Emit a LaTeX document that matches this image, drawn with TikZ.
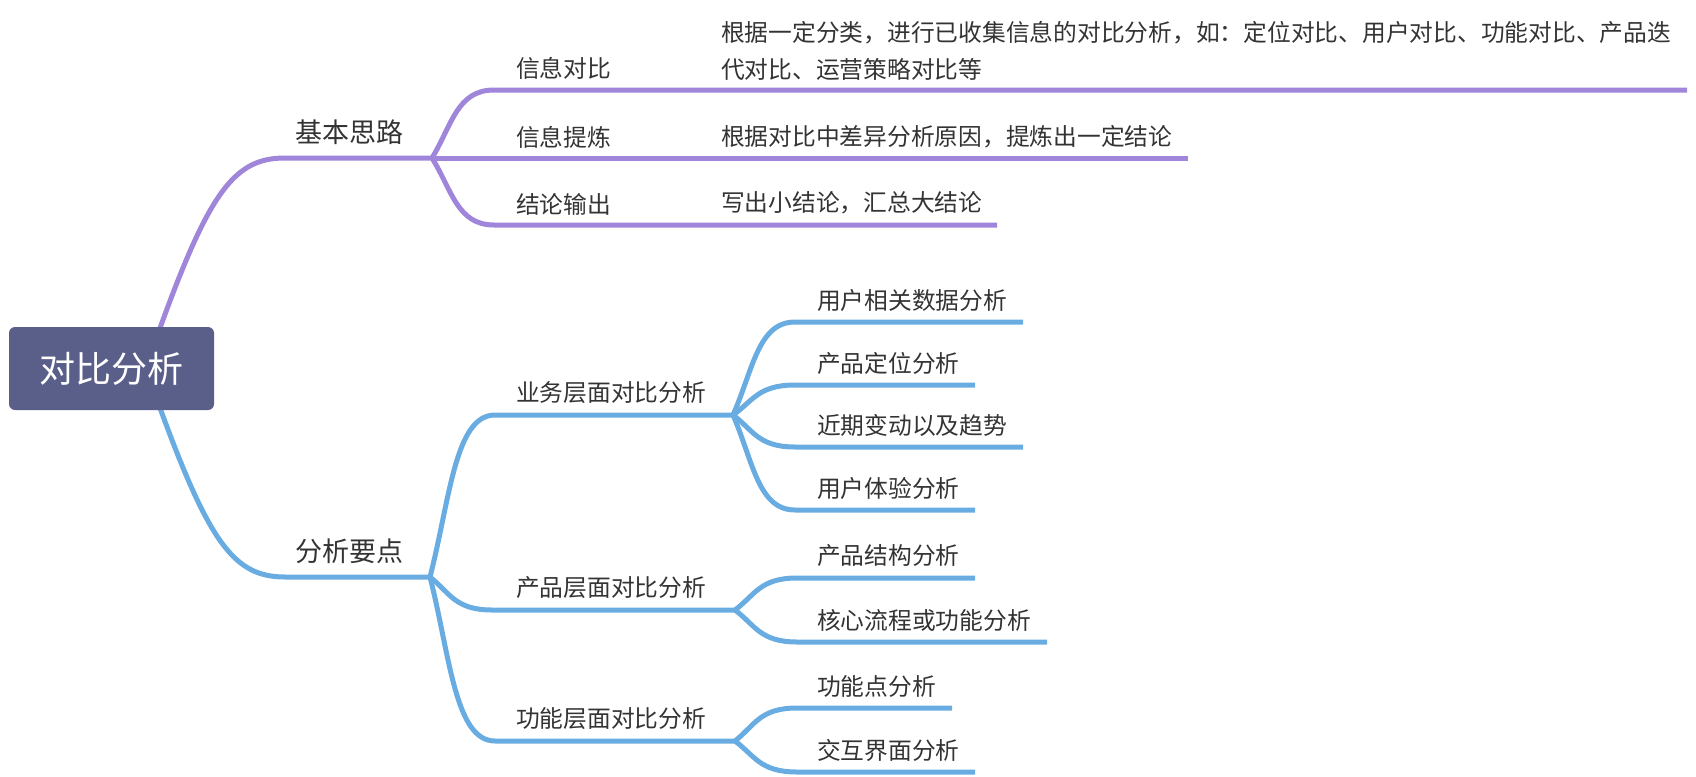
\documentclass[tikz,border=0pt]{standalone}
\usepackage{fontspec}
\newfontfamily\cjk{Noto Sans CJK SC}
\definecolor{purp}{RGB}{160,134,218}
\definecolor{blu}{RGB}{104,172,225}
\definecolor{rootc}{RGB}{89,95,137}
\definecolor{txt}{RGB}{51,51,51}
\begin{document}
\begin{tikzpicture}[x=1pt,y=-1pt,
  lbl/.style={anchor=west,inner sep=0pt,text=txt,font=\cjk\fontsize{23.75}{37}\selectfont},
  lblone/.style={lbl,font=\cjk\fontsize{27}{32}\selectfont},
  pline/.style={draw=purp,line width=5pt},
  bline/.style={draw=blu,line width=5pt},
  rootbox/.style={fill=rootc,rounded corners=6pt,minimum width=205pt,minimum height=83pt,
    inner sep=0pt,text=white,font=\cjk\fontsize{36}{40}\selectfont}]
\useasboundingbox (0,0) rectangle (1696,776);

% junction coordinates
\coordinate (rtop) at (160,328);
\coordinate (rbot) at (160,408);
\coordinate (pB) at (432,158);
\coordinate (bB) at (430,577);
\coordinate (yB) at (733,415);
\coordinate (cB) at (735,610);
\coordinate (gB) at (735,741);
% line ends
\coordinate (p1e) at (1687,90);
\coordinate (p2e) at (1188,158);
\coordinate (p3e) at (997,225);
\coordinate (y1e) at (1023,322);
\coordinate (y2e) at (975,385);
\coordinate (y3e) at (1023,447);
\coordinate (y4e) at (975,510);
\coordinate (c1e) at (975,578);
\coordinate (c2e) at (1047,642);
\coordinate (g1e) at (952,708);
\coordinate (g2e) at (975,772);

% purple branch
\draw[pline] (rtop) .. controls (210,190) and (235,158) .. (285,158) -- (pB);
\draw[pline] (pB) .. controls (452,125) and (457,90) .. (494,90) -- (p1e);
\draw[pline] (pB) -- (p2e);
\draw[pline] (pB) .. controls (452,190) and (457,225) .. (494,225) -- (p3e);

% blue branch
\draw[bline] (rbot) .. controls (210,545) and (235,577) .. (285,577) -- (bB);
\draw[bline] (bB) .. controls (450,499) and (455,415) .. (495,415) -- (yB);
\draw[bline] (bB) .. controls (450,593) and (455,610) .. (492,610) -- (cB);
\draw[bline] (bB) .. controls (450,656) and (455,741) .. (495,741) -- (gB);

\draw[bline] (yB) .. controls (753,370) and (758,322) .. (795,322) -- (y1e);
\draw[bline] (yB) .. controls (753,401) and (758,385) .. (795,385) -- (y2e);
\draw[bline] (yB) .. controls (753,430) and (758,447) .. (795,447) -- (y3e);
\draw[bline] (yB) .. controls (753,461) and (758,510) .. (795,510) -- (y4e);

\draw[bline] (cB) .. controls (755,595) and (760,578) .. (797,578) -- (c1e);
\draw[bline] (cB) .. controls (755,625) and (760,642) .. (797,642) -- (c2e);

\draw[bline] (gB) .. controls (755,725) and (760,708) .. (797,708) -- (g1e);
\draw[bline] (gB) .. controls (755,756) and (760,772) .. (797,772) -- (g2e);

% root
\node[rootbox] (root) at (111.5,368.5) {对比分析};

% level 1
\node[lblone] (n1) at (295,132) {基本思路};
\node[lblone] (n2) at (295,551) {分析要点};

% purple level 2
\node[lbl] (p1) at (516,68) {信息对比};
\node[lbl] (p2) at (516,137) {信息提炼};
\node[lbl] (p3) at (516,204) {结论输出};
\node[lbl,align=left] (p1d) at (721,50.5) {根据一定分类，进行已收集信息的对比分析，如：定位对比、用户对比、功能对比、产品迭\\代对比、运营策略对比等};
\node[lbl] (p2d) at (721,137) {根据对比中差异分析原因，提炼出一定结论};
\node[lbl] (p3d) at (721,203) {写出小结论，汇总大结论};

% blue level 2
\node[lbl] (y) at (516,393) {业务层面对比分析};
\node[lbl] (c) at (516,588) {产品层面对比分析};
\node[lbl] (g) at (516,719) {功能层面对比分析};

% blue level 3
\node[lbl] (y1) at (817,300) {用户相关数据分析};
\node[lbl] (y2) at (817,363) {产品定位分析};
\node[lbl] (y3) at (817,425) {近期变动以及趋势};
\node[lbl] (y4) at (817,488) {用户体验分析};
\node[lbl] (c1) at (817,556) {产品结构分析};
\node[lbl] (c2) at (817,620) {核心流程或功能分析};
\node[lbl] (g1) at (817,686) {功能点分析};
\node[lbl] (g2) at (817,750) {交互界面分析};
\end{tikzpicture}
\end{document}
